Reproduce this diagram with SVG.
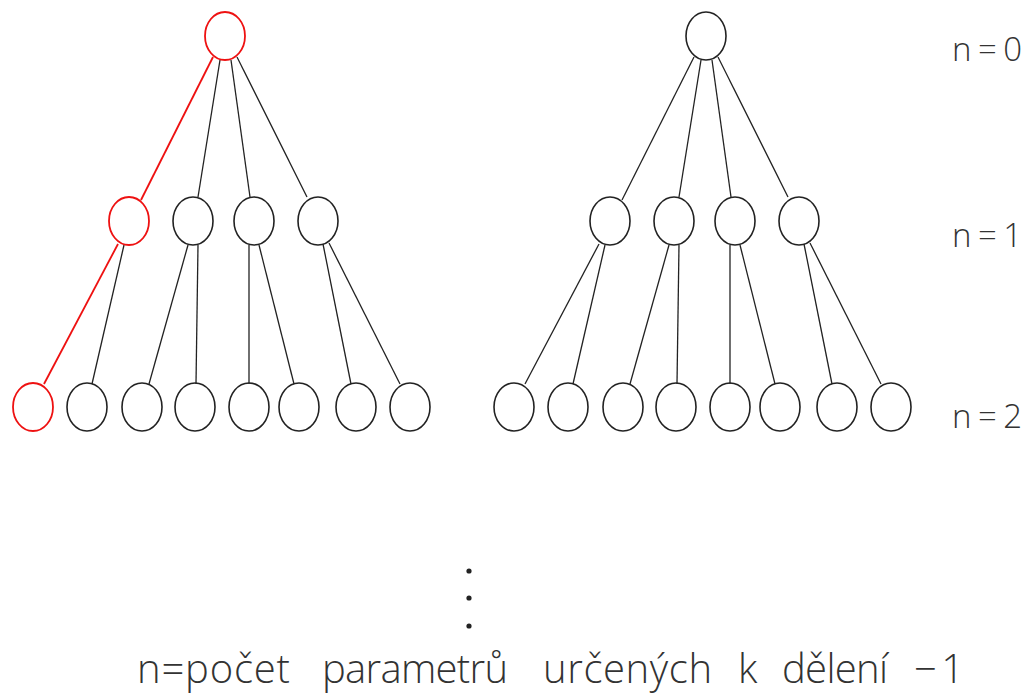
<svg xmlns="http://www.w3.org/2000/svg" width="1028" height="693" viewBox="0 0 1028 693">
<style>
.n{fill:none;stroke:#222;stroke-width:1.6}
.r{fill:none;stroke:#ee1111;stroke-width:1.8}
.e{stroke:#222;stroke-width:1.3}
.er{stroke:#ee1111;stroke-width:1.8}
.t{font-family:"Open Sans","Liberation Sans",Arial,sans-serif;font-weight:300;fill:#333;font-size:33px}
.b{font-family:"Open Sans","Liberation Sans",Arial,sans-serif;font-weight:300;fill:#333;font-size:40px}
</style>
<rect width="1028" height="693" fill="#fff"/>
<g id="connectors">
<line class="er" x1="213" y1="57" x2="141" y2="200"/>
<line class="e" x1="220" y1="60" x2="198" y2="197"/>
<line class="e" x1="231" y1="60" x2="250" y2="197"/>
<line class="e" x1="237" y1="57" x2="307" y2="197"/>
<line class="er" x1="118" y1="244" x2="44" y2="384"/>
<line class="e" x1="124" y1="245" x2="92" y2="384"/>
<line class="e" x1="188" y1="245" x2="149" y2="384"/>
<line class="e" x1="198" y1="245" x2="196" y2="384"/>
<line class="e" x1="249" y1="245" x2="249" y2="384"/>
<line class="e" x1="259" y1="245" x2="294" y2="384"/>
<line class="e" x1="323" y1="244" x2="351" y2="384"/>
<line class="e" x1="329" y1="243" x2="400" y2="384"/>
<line class="e" x1="694" y1="57" x2="622" y2="200"/>
<line class="e" x1="701" y1="60" x2="679" y2="197"/>
<line class="e" x1="712" y1="60" x2="731" y2="197"/>
<line class="e" x1="718" y1="57" x2="788" y2="197"/>
<line class="e" x1="599" y1="244" x2="525" y2="384"/>
<line class="e" x1="605" y1="245" x2="573" y2="384"/>
<line class="e" x1="669" y1="245" x2="630" y2="384"/>
<line class="e" x1="679" y1="245" x2="677" y2="384"/>
<line class="e" x1="730" y1="245" x2="730" y2="384"/>
<line class="e" x1="740" y1="245" x2="775" y2="384"/>
<line class="e" x1="804" y1="244" x2="832" y2="384"/>
<line class="e" x1="810" y1="243" x2="881" y2="384"/>
</g>
<g id="left-tree">
<g id="L-root"><ellipse class="r" cx="225" cy="36" rx="20" ry="24"/></g>
<g id="L-1a"><ellipse class="r" cx="129" cy="221" rx="20" ry="24"/></g>
<g id="L-1b"><ellipse class="n" cx="193" cy="221" rx="20" ry="24"/></g>
<g id="L-1c"><ellipse class="n" cx="254" cy="221" rx="20" ry="24"/></g>
<g id="L-1d"><ellipse class="n" cx="318" cy="221" rx="20" ry="24"/></g>
<g id="L-2a"><ellipse class="r" cx="33" cy="407" rx="20" ry="24"/></g>
<g id="L-2b"><ellipse class="n" cx="87" cy="407" rx="20" ry="24"/></g>
<g id="L-2c"><ellipse class="n" cx="142" cy="407" rx="20" ry="24"/></g>
<g id="L-2d"><ellipse class="n" cx="195" cy="407" rx="20" ry="24"/></g>
<g id="L-2e"><ellipse class="n" cx="249" cy="407" rx="20" ry="24"/></g>
<g id="L-2f"><ellipse class="n" cx="299" cy="407" rx="20" ry="24"/></g>
<g id="L-2g"><ellipse class="n" cx="356" cy="407" rx="20" ry="24"/></g>
<g id="L-2h"><ellipse class="n" cx="410" cy="407" rx="20" ry="24"/></g>
</g>
<g id="right-tree">
<g id="R-root"><ellipse class="n" cx="706" cy="36" rx="20" ry="24"/></g>
<g id="R-1a"><ellipse class="n" cx="610" cy="221" rx="20" ry="24"/></g>
<g id="R-1b"><ellipse class="n" cx="674" cy="221" rx="20" ry="24"/></g>
<g id="R-1c"><ellipse class="n" cx="735" cy="221" rx="20" ry="24"/></g>
<g id="R-1d"><ellipse class="n" cx="799" cy="221" rx="20" ry="24"/></g>
<g id="R-2a"><ellipse class="n" cx="514" cy="407" rx="20" ry="24"/></g>
<g id="R-2b"><ellipse class="n" cx="568" cy="407" rx="20" ry="24"/></g>
<g id="R-2c"><ellipse class="n" cx="623" cy="407" rx="20" ry="24"/></g>
<g id="R-2d"><ellipse class="n" cx="676" cy="407" rx="20" ry="24"/></g>
<g id="R-2e"><ellipse class="n" cx="730" cy="407" rx="20" ry="24"/></g>
<g id="R-2f"><ellipse class="n" cx="780" cy="407" rx="20" ry="24"/></g>
<g id="R-2g"><ellipse class="n" cx="837" cy="407" rx="20" ry="24"/></g>
<g id="R-2h"><ellipse class="n" cx="891" cy="407" rx="20" ry="24"/></g>
</g>
<g id="labels">
<text class="t" x="952" y="61" textLength="70" lengthAdjust="spacing">n=0</text>
<text class="t" x="952" y="247" textLength="70" lengthAdjust="spacing">n=1</text>
<text class="t" x="952" y="428" textLength="70" lengthAdjust="spacing">n=2</text>
</g>
<g id="dots" fill="#222">
<circle cx="469" cy="571" r="2.6"/>
<circle cx="469" cy="598" r="2.6"/>
<circle cx="469" cy="626" r="2.6"/>
</g>
<g id="caption">
<text class="b" x="137" y="683" textLength="153" lengthAdjust="spacing">n=počet</text>
<text class="b" x="322" y="683" textLength="186" lengthAdjust="spacing">parametrů</text>
<text class="b" x="543" y="683" textLength="169" lengthAdjust="spacing">určených</text>
<text class="b" x="738" y="683">k</text>
<text class="b" x="782" y="683" textLength="106" lengthAdjust="spacing">dělení</text>
<text class="b" x="914" y="683" textLength="50" lengthAdjust="spacing">−1</text>
</g>
</svg>
